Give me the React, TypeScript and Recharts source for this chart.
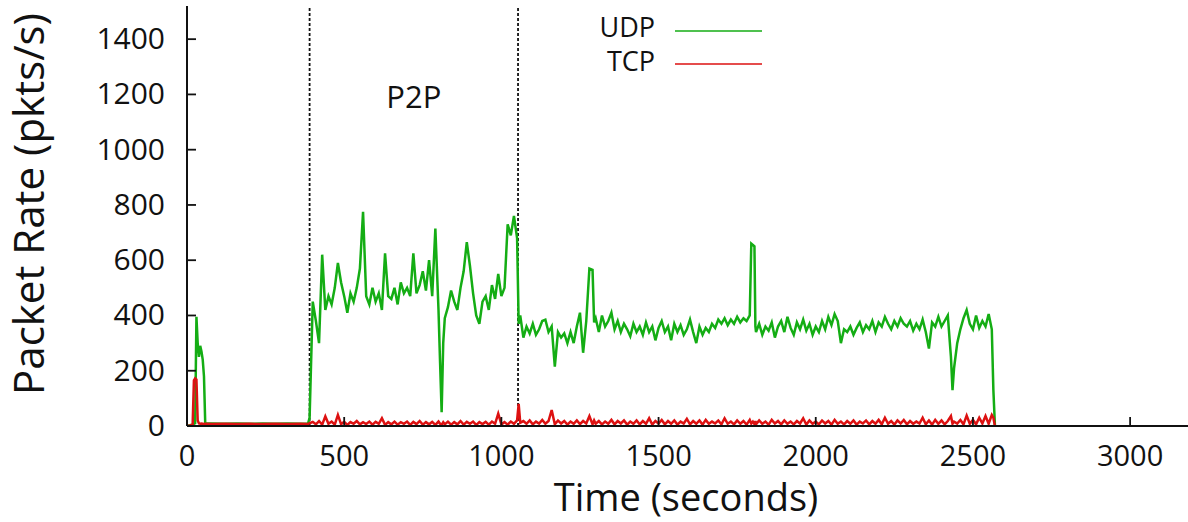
import React from 'react';
import { LineChart, Line, XAxis, YAxis, ReferenceLine, ReferenceArea, Label, Legend } from 'recharts';

// time stamps (s) shared by both series
const seconds = [
  0, 10, 18, 22, 26, 30, 34, 38, 42, 46,
  50, 54, 58, 80, 120, 160, 200, 240, 280, 320,
  360, 385, 390, 400, 410, 420, 430, 440, 450, 460,
  470, 480, 490, 500, 510, 520, 530, 540, 550, 560,
  570, 580, 590, 600, 610, 620, 630, 640, 650, 660,
  670, 680, 690, 700, 710, 720, 730, 740, 750, 760,
  770, 780, 790, 800, 805, 810, 815, 820, 830, 840,
  850, 860, 870, 880, 890, 900, 910, 920, 930, 940,
  950, 960, 970, 980, 990, 1000, 1010, 1020, 1030, 1040,
  1050, 1055, 1060, 1070, 1080, 1090, 1100, 1110, 1120, 1130,
  1140, 1150, 1160, 1170, 1180, 1190, 1200, 1210, 1220, 1230,
  1240, 1250, 1260, 1270, 1280, 1290, 1295, 1300, 1310, 1320,
  1330, 1340, 1350, 1360, 1370, 1380, 1390, 1400, 1410, 1420,
  1430, 1440, 1450, 1460, 1470, 1480, 1490, 1500, 1510, 1520,
  1530, 1540, 1550, 1560, 1570, 1580, 1590, 1600, 1610, 1620,
  1630, 1640, 1650, 1660, 1670, 1680, 1690, 1700, 1710, 1720,
  1730, 1740, 1750, 1760, 1770, 1780, 1790, 1795, 1800, 1805,
  1808, 1810, 1820, 1830, 1840, 1850, 1860, 1870, 1880, 1890,
  1900, 1910, 1920, 1930, 1940, 1950, 1960, 1970, 1980, 1990,
  2000, 2010, 2020, 2030, 2040, 2050, 2060, 2070, 2080, 2090,
  2100, 2110, 2120, 2130, 2140, 2150, 2160, 2170, 2180, 2190,
  2200, 2210, 2220, 2230, 2240, 2250, 2260, 2270, 2280, 2290,
  2300, 2310, 2320, 2330, 2340, 2350, 2360, 2370, 2380, 2390,
  2400, 2410, 2420, 2430, 2435, 2440, 2450, 2460, 2470, 2480,
  2490, 2500, 2510, 2520, 2530, 2540, 2550, 2560, 2565, 2570,
];

const udp = [
  0, 3, 6, 8, 10, 395, 300, 250, 290, 270,
  240, 180, 10, 9, 8, 9, 8, 9, 8, 9,
  8, 9, 30, 450, 380, 300, 620, 420, 470, 440,
  500, 590, 520, 470, 410, 480, 450, 500, 570, 775,
  470, 440, 500, 450, 480, 420, 625, 470, 460, 500,
  440, 520, 480, 500, 470, 625, 480, 510, 560, 490,
  600, 470, 715, 420, 230, 50, 300, 390, 430, 490,
  450, 420, 500, 560, 665, 580, 480, 400, 370, 450,
  470, 420, 510, 460, 550, 470, 500, 730, 690, 760,
  680, 370, 400, 320, 360, 335, 370, 330, 350, 380,
  385, 340, 360, 215, 340, 320, 335, 300, 340, 300,
  360, 410, 265, 380, 570, 565, 375, 390, 340, 400,
  360, 380, 410, 350, 380, 340, 370, 350, 325, 370,
  340, 360, 330, 375, 340, 360, 310, 355, 380, 340,
  360, 310, 370, 340, 365, 330, 350, 385, 340, 300,
  360, 330, 355, 340, 370, 355, 385, 370, 390, 365,
  385, 370, 395, 375, 390, 380, 400, 660, 655, 650,
  360, 340, 370, 330, 360, 345, 375, 320, 360, 380,
  340, 395, 355, 330, 375, 350, 385, 345, 370, 330,
  360, 340, 380, 350, 395, 365, 405, 380, 300, 350,
  340, 360, 330, 355, 375, 340, 365, 350, 380, 340,
  375, 360, 395, 370, 350, 380, 360, 390, 370, 360,
  380, 345, 370, 350, 385, 340, 280, 375, 360, 395,
  360, 380, 400, 250, 130, 210, 300, 350, 390, 420,
  370, 350, 400, 355, 380, 360, 405, 350, 130, 0,
];

const tcp = [
  0, 2, 5, 165, 172, 168, 20, 9, 8, 9,
  8, 7, 8, 7, 8, 7, 8, 7, 8, 7,
  8, 7, 10, 15, 6, 18, 5, 35, 8, 16,
  5, 40, 7, 15, 4, 14, 8, 18, 6, 14,
  7, 16, 5, 15, 8, 28, 4, 14, 6, 16,
  5, 14, 8, 16, 4, 15, 7, 18, 5, 14,
  6, 15, 4, 16, 8, 5, 14, 6, 16, 5,
  14, 6, 18, 5, 15, 8, 16, 4, 14, 7,
  15, 5, 16, 8, 45, 6, 14, 5, 16, 8,
  20, 80, 12, 18, 8, 20, 6, 16, 9, 22,
  8, 18, 58, 6, 20, 9, 18, 5, 16, 8,
  20, 7, 18, 9, 36, 6, 20, 8, 18, 6,
  16, 8, 22, 6, 18, 9, 20, 5, 16, 8,
  20, 6, 18, 8, 28, 5, 18, 9, 22, 6,
  18, 8, 20, 5, 16, 9, 26, 6, 18, 8,
  20, 5, 22, 8, 16, 9, 20, 6, 28, 8,
  16, 6, 20, 8, 18, 5, 22, 9, 16, 7,
  18, 6, 20, 8, 16, 5, 22, 9, 18, 6,
  20, 8, 16, 6, 18, 9, 28, 5, 20, 8,
  16, 6, 20, 9, 18, 5, 22, 8, 16, 6,
  18, 8, 20, 5, 16, 9, 20, 6, 18, 8,
  22, 6, 30, 8, 18, 5, 20, 9, 22, 6,
  18, 8, 16, 9, 30, 6, 20, 5, 22, 8,
  20, 6, 18, 36, 8, 16, 9, 22, 6, 38,
  8, 22, 6, 30, 9, 36, 8, 40, 30, 0,
];

const seriesNames = ['UDP', 'TCP'];
const xTicks = [0, 500, 1000, 1500, 2000, 2500, 3000];
const yTicks = [0, 200, 400, 600, 800, 1000, 1200, 1400];
const p2pStart = 390;
const p2pEnd = 1053;

const FONT = '"Open Sans", sans-serif';
const INK = '#111';
const GREEN = '#14ad14';
const RED = '#dd1111';

const data = seconds.map((t, i) => ({ t, udp: udp[i], tcp: tcp[i] }));

const BottomTick = ({ x, y, payload }: any) => (
  <g>
    <line x1={x} x2={x} y1={y} y2={y - 9} stroke={INK} strokeWidth={1.8} />
    <text x={x} y={y + 40} textAnchor="middle" fontSize={29} fontFamily={FONT} fill={INK}>
      {payload.value}
    </text>
  </g>
);

const TopTick = ({ x, y }: any) => (
  <line x1={x} x2={x} y1={y} y2={y + 9} stroke={INK} strokeWidth={1.8} />
);

const LeftTick = ({ x, y, payload }: any) => (
  <g>
    <line x1={x} x2={x + 9} y1={y} y2={y} stroke={INK} strokeWidth={1.8} />
    <text x={x - 22} y={y + 10} textAnchor="end" fontSize={30} fontFamily={FONT} fill={INK}>
      {payload.value}
    </text>
  </g>
);

const RightTick = ({ x, y }: any) => (
  <line x1={x} x2={x - 9} y1={y} y2={y} stroke={INK} strokeWidth={1.8} />
);

const KeyBox = ({ payload }: any) => {
  const items = [...(payload || [])].sort(
    (a: any, b: any) => seriesNames.indexOf(a.value) - seriesNames.indexOf(b.value)
  );
  return (
    <svg width={220} height={80} style={{ display: 'block' }}>
      {items.map((p: any, i: number) => (
        <g key={p.value}>
          <text x={95} y={37 + i * 34} textAnchor="end" fontSize={27} fontFamily={FONT} fill={INK}>
            {p.value}
          </text>
          <line x1={115} x2={202} y1={31 + i * 33} y2={31 + i * 33} stroke={p.color} strokeWidth={1.5} />
        </g>
      ))}
    </svg>
  );
};

export default function App() {
  return (
    <div style={{ position: 'absolute', left: 0, top: 0, width: 1188, height: 522, overflow: 'hidden', background: '#fff' }}>
      <LineChart width={1200} height={522} data={data} margin={{ top: 6, right: 7, bottom: 0, left: 0 }}>
        <XAxis
          dataKey="t"
          type="number"
          domain={[0, 3200]}
          ticks={xTicks}
          interval={0}
          allowDataOverflow
          height={96}
          tickSize={0}
          tickMargin={0}
          tickLine={false}
          axisLine={{ stroke: INK, strokeWidth: 2 }}
          tick={(p: any) => <BottomTick {...p} />}
        >
          <Label
            content={({ viewBox }: any) => (
              <text x={viewBox.x + 499} y={viewBox.y + 85} textAnchor="middle" fontSize={38} fontFamily={FONT} fill={INK}>
                Time (seconds)
              </text>
            )}
          />
        </XAxis>
        <XAxis
          xAxisId="top"
          orientation="top"
          dataKey="t"
          type="number"
          domain={[0, 3200]}
          ticks={xTicks}
          interval={0}
          allowDataOverflow
          height={0}
          tickSize={0}
          tickMargin={0}
          tickLine={false}
          axisLine={{ stroke: INK, strokeWidth: 2 }}
          tick={(p: any) => <TopTick {...p} />}
        />
        <YAxis
          type="number"
          domain={[0, 1520]}
          ticks={yTicks}
          interval={0}
          allowDataOverflow
          width={187}
          tickSize={0}
          tickMargin={0}
          tickLine={false}
          axisLine={{ stroke: INK, strokeWidth: 2 }}
          tick={(p: any) => <LeftTick {...p} />}
        >
          <Label
            content={({ viewBox }: any) => {
              const cx = viewBox.x + 44;
              const cy = viewBox.y + 198;
              return (
                <text x={cx} y={cy} transform={`rotate(-90 ${cx} ${cy})`} textAnchor="middle" fontSize={42} fontFamily={FONT} fill={INK}>
                  Packet Rate (pkts/s)
                </text>
              );
            }}
          />
        </YAxis>
        <YAxis
          yAxisId="right"
          orientation="right"
          type="number"
          domain={[0, 1520]}
          ticks={yTicks}
          interval={0}
          allowDataOverflow
          width={0}
          tickSize={0}
          tickMargin={0}
          tickLine={false}
          axisLine={{ stroke: INK, strokeWidth: 2 }}
          tick={(p: any) => <RightTick {...p} />}
        />
        <ReferenceArea x1={p2pStart} x2={p2pEnd} fillOpacity={0} strokeOpacity={0}>
          <Label
            content={({ viewBox }: any) => (
              <text x={viewBox.x + viewBox.width / 2} y={viewBox.y + 102} textAnchor="middle" fontSize={31} fontFamily={FONT} fill={INK}>
                P2P
              </text>
            )}
          />
        </ReferenceArea>
        <ReferenceLine x={p2pStart} stroke={INK} strokeWidth={1.8} strokeDasharray="3 2" />
        <ReferenceLine x={p2pEnd} stroke={INK} strokeWidth={1.8} strokeDasharray="3 2" />
        <Line name={seriesNames[0]} dataKey="udp" type="linear" stroke={GREEN} strokeWidth={2.5} dot={false} isAnimationActive={false} />
        <Line name={seriesNames[1]} dataKey="tcp" type="linear" stroke={RED} strokeWidth={2.5} dot={false} isAnimationActive={false} />
        <Legend
          layout="vertical"
          align="center"
          verticalAlign="middle"
          wrapperStyle={{ left: 560, top: 0, width: 220 }}
          content={(p: any) => <KeyBox {...p} />}
        />
      </LineChart>
    </div>
  );
}
